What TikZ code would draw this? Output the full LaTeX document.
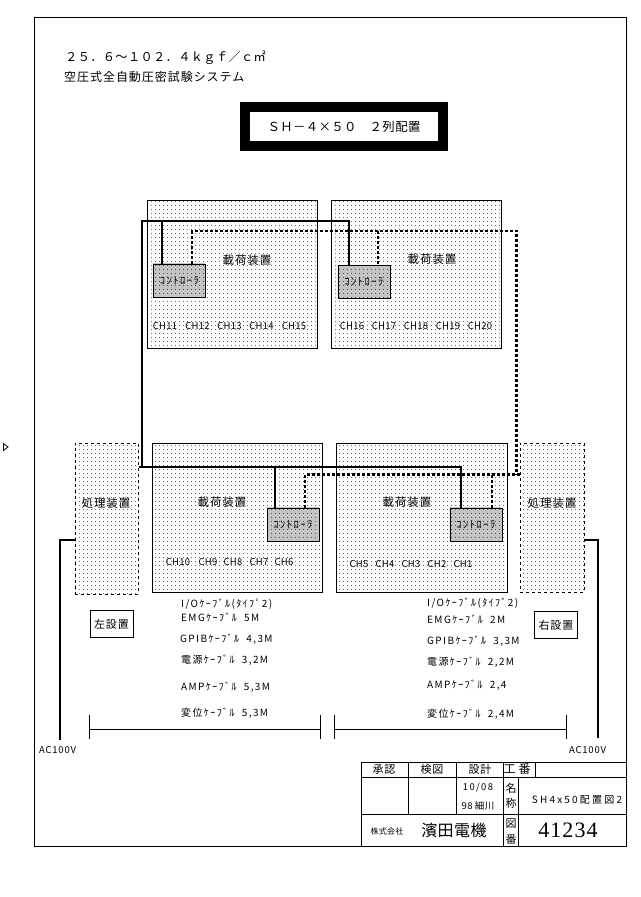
\documentclass[tikz,border=0pt]{standalone}
\usepackage{fontspec}
\usepackage{tikz}
\usetikzlibrary{positioning,patterns.meta}

\newfontfamily\cjk[LetterSpace=3]{Noto Sans CJK JP}
\newfontfamily\cjkwide[LetterSpace=8]{Noto Sans CJK JP}
\newfontfamily\cjkloose[LetterSpace=14]{Noto Sans CJK JP}
\newfontfamily\cjkname[LetterSpace=22]{Noto Sans CJK JP}
\newfontfamily\numfont[LetterSpace=5]{Liberation Serif}

\tikzset{
  every node/.style = {inner sep = 0pt, font = \cjk\fontsize{10}{12}\selectfont},
  loadbox/.style = {draw, thick, anchor = north west, pattern = {Dots[distance = 4pt, radius = 0.55pt]}},
  procbox/.style = {draw, dashed, thick, anchor = north west, pattern = {Dots[distance = 4pt, radius = 0.55pt]}},
  ctrlbox/.style = {draw, thick, anchor = north west, minimum width = 52pt, minimum height = 33pt,
    pattern = {Dots[distance = 2pt, radius = 0.62pt]}, font = \cjkloose\fontsize{10.5}{12}\selectfont},
  sidebox/.style = {draw, thick, anchor = north west, minimum width = 43pt, minimum height = 27pt,
    font = \cjkwide\fontsize{11}{13}\selectfont},
  unitlabel/.style = {font = \cjkwide\fontsize{11.5}{13}\selectfont},
  chlabel/.style = {font = \cjk\fontsize{9.5}{11}\selectfont},
  cablelabel/.style = {anchor = west, font = \cjkloose\fontsize{10}{12}\selectfont},
  signalline/.style = {line width = 2pt},
  gpibline/.style = {line width = 2.2pt, dash pattern = on 3pt off 2pt},
  powerline/.style = {line width = 2pt},
}

\begin{document}
\begin{tikzpicture}[x = 1pt, y = -1pt]

\useasboundingbox (0,0) rectangle (640,897);
\fill[white] (0,0) rectangle (640,897);

% frame and heading
\draw[thick] (34,17.5) rectangle (626,846);
\node[anchor = west, font = \cjk\fontsize{12.2}{14}\selectfont] (range) at (65,58) {２５．６～１０２．４ｋｇｆ／ｃ㎡};
\node[anchor = west, font = \cjkwide\fontsize{12}{14}\selectfont] (system) at (64,76.5) {空圧式全自動圧密試験システム};
\node[draw, line width = 10pt, minimum width = 198pt, minimum height = 39pt, font = \cjk\fontsize{12.4}{14}\selectfont] (model) at (344,126.5) {ＳＨ－４×５０　２列配置};
\draw[thick] (3.5,443.5) -- (8,447) -- (3.5,450.5) -- cycle;

% load units
\node[loadbox, minimum width = 170pt, minimum height = 148pt] (loadA) at (147,200) {};
\node[loadbox, minimum width = 170pt, minimum height = 148pt] (loadB) at (331,200) {};
\node[loadbox, minimum width = 170pt, minimum height = 149pt] (loadC) at (152,443) {};
\node[loadbox, minimum width = 170.5pt, minimum height = 149pt] (loadD) at (336,443) {};

\node[unitlabel] (nameA) at (247,260) {載荷装置};
\node[unitlabel] (nameB) at (432,259) {載荷装置};
\node[unitlabel] (nameC) at (222,502) {載荷装置};
\node[unitlabel] (nameD) at (407,502) {載荷装置};

% controllers
\node[ctrlbox] (ctrlA) at (153,263.5) {ｺﾝﾄﾛｰﾗ};
\node[ctrlbox] (ctrlB) at (337.5,265) {ｺﾝﾄﾛｰﾗ};
\node[ctrlbox] (ctrlC) at (266.5,507.5) {ｺﾝﾄﾛｰﾗ};
\node[ctrlbox] (ctrlD) at (449.5,507.5) {ｺﾝﾄﾛｰﾗ};

% channel labels
\foreach \ch/\xpos in {11/165, 12/197.5, 13/229.5, 14/261.5, 15/294} {
  \node[chlabel] (ch\ch) at (\xpos,326) {CH\ch};
}
\foreach \ch/\xpos in {16/352, 17/384, 18/416, 19/448, 20/480} {
  \node[chlabel] (ch\ch) at (\xpos,326) {CH\ch};
}
\foreach \ch/\xpos in {10/178, 9/208, 8/233, 7/259, 6/284} {
  \node[chlabel] (ch\ch) at (\xpos,562.5) {CH\ch};
}
\foreach \ch/\xpos in {5/359, 4/385, 3/411, 2/437, 1/463} {
  \node[chlabel] (ch\ch) at (\xpos,564.5) {CH\ch};
}

% processing units
\node[procbox, minimum width = 63pt, minimum height = 151pt] (procL) at (75,442.5) {};
\node[procbox, minimum width = 64pt, minimum height = 149pt] (procR) at (520,442.5) {};
\node[unitlabel] (nameL) at (106,503) {処理装置};
\node[unitlabel] (nameR) at (552,503) {処理装置};

% signal cable
\coordinate (busEnd) at (461,467);
\draw[signalline] (procL.east |- busEnd) -- (busEnd) -- (busEnd |- ctrlD.north);
\draw[signalline] (141.5,467) -- (141.5,221) -- (349,221) -- (349,221 |- ctrlB.north);
\draw[signalline] (162,221) -- (162,221 |- ctrlA.north);
\draw[signalline] (275,467) -- (275,467 |- ctrlC.north);

% gpib cable
\draw[gpibline] (192,231 |- ctrlA.north) -- (192,231) -- (516.5,231) -- (516.5,474.5);
\draw[gpibline] (378,231) -- (378,231 |- ctrlB.north);
\draw[gpibline] (305,474.5 |- ctrlC.north) -- (305,474.5) -- (procR.west |- 305,474.5);
\draw[gpibline] (492,474.5) -- (492,474.5 |- ctrlD.north);

% power
\coordinate (acL) at (60,740);
\coordinate (acR) at (598,738);
\draw[powerline] (procL.west |- 60,540) -- (60,540) -- (acL);
\draw[powerline] (procR.east |- 598,540) -- (598,540) -- (acR);
\node[anchor = west, font = \cjkwide\fontsize{9.5}{11}\selectfont] (acLlabel) at (39,750) {AC100V};
\node[anchor = west, font = \cjkwide\fontsize{9.5}{11}\selectfont] (acRlabel) at (569,750) {AC100V};

% install side
\node[sidebox] (sideL) at (89.5,610) {左設置};
\node[sidebox] (sideR) at (534,611) {右設置};

% cables, left
\node[cablelabel] (ioL) at (181,604) {I/Oｹｰﾌﾞﾙ(ﾀｲﾌﾟ2)};
\node[cablelabel] (emgL) at (181,617) {EMGｹｰﾌﾞﾙ\ \ 5M};
\node[cablelabel] (gpibL) at (180,639) {GPIBｹｰﾌﾞﾙ\ \ 4,3M};
\node[cablelabel] (acpL) at (181,660) {電源ｹｰﾌﾞﾙ\ \ 3,2M};
\node[cablelabel] (ampL) at (181,687) {AMPｹｰﾌﾞﾙ\ \ 5,3M};
\node[cablelabel] (dispL) at (181,713.5) {変位ｹｰﾌﾞﾙ\ \ 5,3M};

% cables, right
\node[cablelabel] (ioR) at (427,603.5) {I/Oｹｰﾌﾞﾙ(ﾀｲﾌﾟ2)};
\node[cablelabel] (emgR) at (427,619) {EMGｹｰﾌﾞﾙ\ \ 2M};
\node[cablelabel] (gpibR) at (427,641) {GPIBｹｰﾌﾞﾙ\ \ 3,3M};
\node[cablelabel] (acpR) at (427,662) {電源ｹｰﾌﾞﾙ\ \ 2,2M};
\node[cablelabel] (ampR) at (427,685) {AMPｹｰﾌﾞﾙ\ \ 2,4};
\node[cablelabel] (dispR) at (427,714) {変位ｹｰﾌﾞﾙ\ \ 2,4M};

% dimension bars
\draw (89.5,715) -- (89.5,739);
\draw (320.5,715) -- (320.5,739);
\draw (89.5,729.5) -- (320.5,729.5);
\draw (334.5,715) -- (334.5,739);
\draw (566.5,715) -- (566.5,739);
\draw (334.5,729.5) -- (566.5,729.5);

% title block
\draw[thick] (361,762) rectangle (626,846);
\draw[thick] (361,777.5) -- (626,777.5);
\draw[thick] (361,814.5) -- (626,814.5);
\draw[thick] (408,762) -- (408,814.5);
\draw[thick] (456,762) -- (456,814.5);
\draw[thick] (503.5,762) -- (503.5,846);
\draw[thick] (518.5,777.5) -- (518.5,846);
\draw[thick] (535,762) -- (535,777.5);

\node[font = \cjkwide\fontsize{11}{13}\selectfont] (approve) at (384,769.5) {承認};
\node[font = \cjkwide\fontsize{11}{13}\selectfont] (check) at (432,769.5) {検図};
\node[font = \cjkwide\fontsize{11}{13}\selectfont] (design) at (480,769.5) {設計};
\node[font = \cjk\fontsize{12}{14}\selectfont] (work) at (517,769) {工\hspace{3pt}番};
\node[font = \cjkloose\fontsize{9.5}{11}\selectfont] (date) at (478,788) {10/08};
\node[font = \cjk\fontsize{9.5}{11}\selectfont] (year) at (478,806) {98 細川};
\node[font = \cjk\fontsize{11}{13}\selectfont] (nameTop) at (511,788) {名};
\node[font = \cjk\fontsize{11}{13}\selectfont] (nameBot) at (511,803) {称};
\node[font = \cjkname\fontsize{10}{12}\selectfont] (drawing) at (577,800) {SH4x50配置図2};
\node[font = \cjk\fontsize{8}{10}\selectfont] (corp) at (387,831.5) {株式会社};
\node[font = \cjk\fontsize{16}{18}\selectfont] (maker) at (454,830) {濱田電機};
\node[font = \cjk\fontsize{11}{13}\selectfont] (noTop) at (511,824) {図};
\node[font = \cjk\fontsize{11}{13}\selectfont] (noBot) at (511,839) {番};
\node[font = \numfont\fontsize{22}{26}\selectfont] (number) at (568,830) {41234};

\end{tikzpicture}
\end{document}
